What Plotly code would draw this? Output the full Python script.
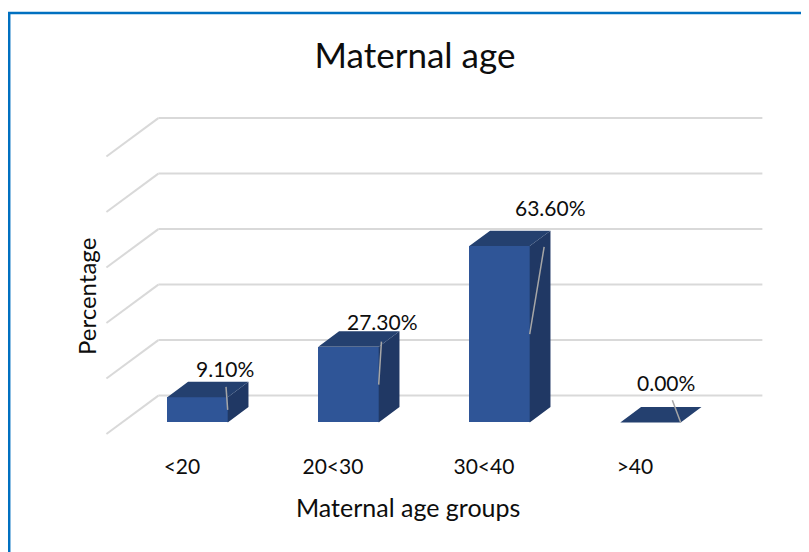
import plotly.graph_objects as go

# data
age_groups = ["<20", "20<30", "30<40", ">40"]
percent = [9.1, 27.3, 63.6, 0.0]
label_text = ["9.10%", "27.30%", "63.60%", "0.00%"]
grid_values = [0, 20, 40, 60, 80, 100]

# fake 3d projection (category units / percent units)
DX = 0.344     # horizontal shift of full depth, in categories
DY = 13.84     # vertical shift of full depth, in percent
D_FRONT, D_BACK = 0.3, 0.7
HALF_W = 0.2

# page body has an 8px margin, so the figure is a bit smaller than the window
OFF = 8
W, H = 809 - OFF, 552 - OFF
PX_CAT = 151.0
PX_PCT = 2.775
X0_PX, Y0_PX = 197.5 - OFF, 434.0 - OFF

x_range = [-X0_PX / PX_CAT, (W - X0_PX) / PX_CAT]
y_range = [-(H - Y0_PX) / PX_PCT, Y0_PX / PX_PCT]


def proj(x, y, d):
    return x + (d - D_FRONT) * DX, y + d * DY


def px_x(sx):
    return (sx - OFF) / W


def px_y(sy):
    return 1 - (sy - OFF) / H


fig = go.Figure()

# walls: back wall lines + left wall diagonals, kept under the bars
for v in grid_values:
    pts = [proj(x, v, d) for x, d in [(-0.5, 0), (-0.5, 1), (3.5, 1)]]
    for a, b in zip(pts[:-1], pts[1:]):
        fig.add_shape(type="line", xref="x", yref="y", layer="below",
                      x0=a[0], y0=a[1], x1=b[0], y1=b[1],
                      line=dict(color="#D9D9D9", width=2))

# front faces
fig.add_trace(go.Bar(x=list(range(len(percent))), y=percent,
                     base=[D_FRONT * DY] * len(percent), width=2 * HALF_W,
                     marker=dict(color="#2F5597", line=dict(width=0)),
                     hoverinfo="skip", showlegend=False))

# side and top faces
sx, sy, tx, ty = [], [], [], []
for i, v in enumerate(percent):
    side = [(i + HALF_W, 0, D_FRONT), (i + HALF_W, v, D_FRONT),
            (i + HALF_W, v, D_BACK), (i + HALF_W, 0, D_BACK),
            (i + HALF_W, 0, D_FRONT)]
    top = [(i - HALF_W, v, D_FRONT), (i + HALF_W, v, D_FRONT),
           (i + HALF_W, v, D_BACK), (i - HALF_W, v, D_BACK),
           (i - HALF_W, v, D_FRONT)]
    for p in side:
        a, b = proj(*p)
        sx.append(a)
        sy.append(b)
    for p in top:
        a, b = proj(*p)
        tx.append(a)
        ty.append(b)
    sx.append(None)
    sy.append(None)
    tx.append(None)
    ty.append(None)

fig.add_trace(go.Scatter(x=sx, y=sy, fill="toself", fillcolor="#203864",
                         mode="lines", line=dict(width=0, color="#203864"),
                         hoverinfo="skip", showlegend=False))
fig.add_trace(go.Scatter(x=tx, y=ty, fill="toself", fillcolor="#24406F",
                         mode="lines", line=dict(width=0, color="#24406F"),
                         hoverinfo="skip", showlegend=False))

# data labels with leader lines (labels were dragged by hand in the original)
label_offset = [(-3, -41), (4, -63), (21, -127), (-15, -40)]
start_gap = [4, 6, 26, 4]
for i, v in enumerate(percent):
    ex, ey = proj(i + HALF_W, v / 2, D_FRONT)
    fig.add_annotation(x=ex, y=ey, text=label_text[i],
                       showarrow=True, arrowhead=0, arrowwidth=1.5,
                       arrowcolor="#A6A6A6",
                       ax=label_offset[i][0], ay=label_offset[i][1],
                       startstandoff=start_gap[i],
                       font=dict(family="Lato", size=21, color="#0D0D0D"))

fig.add_annotation(text="Percentage", xref="paper", yref="paper",
                   x=px_x(86), y=px_y(297), xanchor="center", yanchor="middle",
                   textangle=-90, showarrow=False,
                   font=dict(family="Lato", size=24, color="#0D0D0D"))
fig.add_annotation(text="Maternal age groups", xref="paper", yref="paper",
                   x=px_x(408), y=px_y(507), xanchor="center", yanchor="middle",
                   showarrow=False,
                   font=dict(family="Lato", size=25, color="#0D0D0D"))

# blue frame
fig.add_shape(type="rect", xref="paper", yref="paper",
              x0=1.2 / W, x1=1.02, y0=-0.02, y1=1 - 5 / H,
              line=dict(color="#0070C0", width=2.5))

fig.update_layout(
    width=W, height=H,
    margin=dict(l=0, r=0, t=0, b=0, autoexpand=False),
    paper_bgcolor="white", plot_bgcolor="white",
    title=dict(text="Maternal age", x=px_x(415), xanchor="center",
               y=px_y(56), yanchor="middle",
               font=dict(family="Lato", size=35, color="#0D0D0D")),
    xaxis=dict(range=x_range, anchor="free", position=1 - (452 - OFF) / H,
               tickmode="array",
               tickvals=[i + (0 - D_FRONT) * DX for i in range(len(age_groups))],
               ticktext=age_groups, showgrid=False, zeroline=False,
               showline=False, ticks="",
               tickfont=dict(family="Lato", size=21, color="#0D0D0D")),
    yaxis=dict(range=y_range, visible=False, showgrid=False, zeroline=False),
    bargap=0,
)

fig.write_html("out.html")
